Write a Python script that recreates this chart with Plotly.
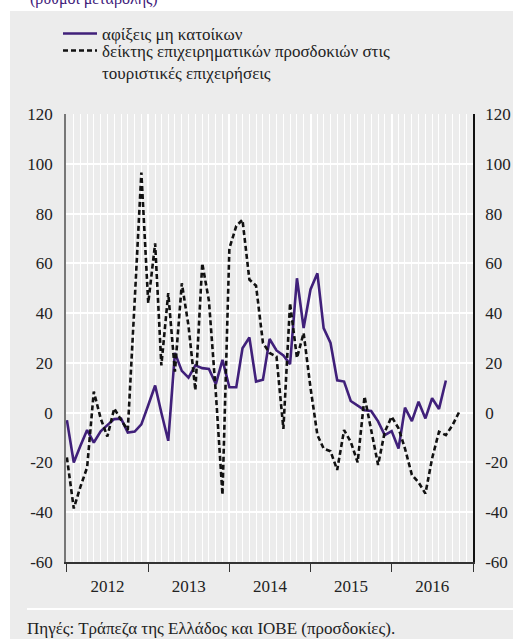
import pandas as pd
import plotly.graph_objects as go

# ---- data -------------------------------------------------------------
arrivals = [-3, -20, -13.5, -7, -12, -7.5, -5, -2.6, -2.4, -8, -7.6, -4.7,
            3, 10.9, 0, -11.3, 24, 16.8, 14.1, 19, 17.9, 17.6, 11.5, 21.2,
            10.2, 10.2, 25.9, 30.2, 12.5, 13.2, 29.6, 25, 23, 19.5, 54, 34,
            49.5, 56, 34, 28, 13, 12.5, 4.7, 3, 1, 0.7, -3.5, -9,
            -7.4, -14.4, 2, -3.4, 4.4, -2.3, 5.8, 1.5, 12.9]
expectations = [-18, -38.5, -30, -22, 8.5, -2.3, -9.6, 1.7, -3, -7, 45, 96.5,
                44, 68, 19, 48, 16.5, 52, 35, 9, 60, 45, 8, -33,
                66, 75, 77.5, 53.5, 51, 28, 24, 22.5, -6.5, 44, 22, 32,
                10, -9, -14.4, -15.5, -23, -7, -11.7, -20, 6.5, -7, -21, -7.7,
                -1.6, -6.3, -14.4, -25, -28, -32.5, -18.4, -7.7, -9, -5, 0.5]
months_arr = pd.date_range("2012-01-01", periods=len(arrivals), freq="MS")
months_exp = pd.date_range("2012-01-01", periods=len(expectations), freq="MS")

y_tickvals = [-60, -40, -20, 0, 20, 40, 60, 80, 100, 120]
y_ticktext = ["-60", "-40", "-20", "0", "20", "40", "60", "80", "100", "120"]

name_arr = "αφίξεις μη κατοίκων"
name_exp = "δείκτης επιχειρηματικών προσδοκιών στις<br>τουριστικές επιχειρήσεις"
title_txt = "(ρυθμοί μεταβολής)"
source_txt = "Πηγές: Τράπεζα της Ελλάδος και ΙΟΒΕ (προσδοκίες)."

# ---- geometry (px) ------------------------------------------------------
W, H = 513, 639
L, R, T, B = 66, 473, 114, 562
pw, ph = R - L, B - T
def px(x):
    return (x - L) / pw
def py(y):
    return (B - y) / ph

FONT = "Liberation Serif, Times New Roman, DejaVu Serif, serif"
PURPLE = "#40207a"
GREY = "#ececec"
TXT = "#222222"

fig = go.Figure()
fig.add_trace(go.Scatter(x=months_arr, y=arrivals, mode="lines", name=name_arr,
                         line=dict(color=PURPLE, width=2.6), legend="legend"))
fig.add_trace(go.Scatter(x=months_exp, y=expectations, mode="lines", name=name_exp,
                         line=dict(color="#111111", width=2.6, dash="5px,3px"),
                         legend="legend2"))
# invisible trace for the right axis
fig.add_trace(go.Scatter(x=months_exp[:1], y=[0], yaxis="y2", mode="lines",
                         showlegend=False, hoverinfo="skip",
                         line=dict(color="rgba(0,0,0,0)")))

fig.update_layout(
    width=W, height=H,
    margin=dict(l=L, r=W - R, t=T, b=H - B, autoexpand=False),
    paper_bgcolor="white", plot_bgcolor=GREY,
    font=dict(family=FONT, size=17, color=TXT),
    xaxis=dict(type="date", range=["2011-12-28", "2017-01-01"],
               tick0="2012-01-01", dtick="M12", tickformat="%Y",
               ticklabelmode="period", ticks="outside", ticklen=8,
               tickcolor="#333", tickwidth=1.3,
               showgrid=True, gridcolor="white", gridwidth=2,
               minor=dict(dtick="M1", showgrid=True, gridcolor="white",
                          gridwidth=1, ticks=""),
               showline=True, linecolor="#333", linewidth=1.5,
               zeroline=False, automargin=False),
    yaxis=dict(range=[-60, 120], tickvals=y_tickvals, ticktext=y_ticktext,
               showgrid=True, gridcolor="white", gridwidth=2,
               showline=True, linecolor="#777", linewidth=1.5,
               zeroline=False, ticks="", ticklabelstandoff=8, automargin=False),
    yaxis2=dict(range=[-60, 120], tickvals=y_tickvals, ticktext=y_ticktext,
                overlaying="y", side="right", showgrid=False,
                showline=True, linecolor="#111", linewidth=1.5,
                zeroline=False, ticks="", ticklabelstandoff=7, automargin=False),
    legend=dict(x=px(58), y=py(34), xanchor="left", yanchor="middle",
                bgcolor="rgba(0,0,0,0)", borderwidth=0,
                font=dict(family=FONT, size=17, color=TXT), itemwidth=34),
    legend2=dict(x=px(58), y=py(33), xanchor="left", yanchor="top",
                 bgcolor="rgba(0,0,0,0)", borderwidth=0, valign="top",
                 font=dict(family=FONT, size=17, color=TXT), itemwidth=34),
    shapes=[
        dict(type="rect", xref="paper", yref="paper", layer="below",
             x0=px(10), x1=px(W + 5), y0=py(11), y1=py(H + 5),
             fillcolor=GREY, line=dict(width=0)),
        dict(type="line", xref="paper", yref="paper", layer="below",
             x0=px(27), x1=px(W + 5), y0=py(609), y1=py(609),
             line=dict(color="white", width=2)),
    ],
    annotations=[
        dict(text=title_txt, xref="paper", yref="paper", x=px(28), y=py(-1),
             xanchor="left", yanchor="middle", showarrow=False,
             font=dict(family=FONT, size=16, color=PURPLE)),
        dict(text=source_txt, xref="paper", yref="paper", x=px(25), y=py(628),
             xanchor="left", yanchor="middle", showarrow=False,
             font=dict(family=FONT, size=17, color=TXT)),
    ],
)

fig.write_html("out.html", config={"displayModeBar": False},
               post_script="document.body.style.margin='0';document.body.style.overflow='hidden';")
